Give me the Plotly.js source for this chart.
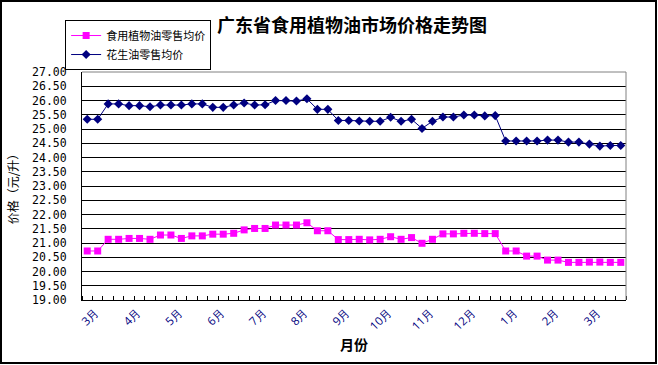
<!DOCTYPE html>
<html><head><meta charset="utf-8">
<script src="https://cdn.plot.ly/plotly-3.0.1.min.js"></script>
<style>
body{margin:0;padding:0;background:#fff;}
#frame{position:absolute;left:0;top:0;width:657px;height:364px;border:2px solid #000;box-sizing:border-box;pointer-events:none;}
</style></head>
<body>
<div id="chart"></div>
<div id="frame"></div>
<script>
// 52 weekly observations, labelled by month (label every 4th point)
const monthLabels = ['3月','4月','5月','6月','7月','8月','9月','10月','11月','12月','1月','2月','3月'];
const labelEvery = 4;

const vegOil = [20.72,20.72,21.13,21.13,21.16,21.16,21.13,21.28,21.28,21.16,
                21.25,21.25,21.31,21.31,21.34,21.46,21.51,21.51,21.63,21.63,
                21.63,21.71,21.43,21.43,21.12,21.12,21.13,21.11,21.13,21.22,
                21.13,21.19,20.99,21.13,21.32,21.32,21.34,21.34,21.33,21.33,
                20.72,20.72,20.54,20.54,20.40,20.40,20.32,20.32,20.33,20.33,
                20.32,20.32];
const peanutOil = [25.34,25.34,25.88,25.88,25.82,25.82,25.78,25.84,25.84,25.84,
                   25.88,25.88,25.76,25.76,25.84,25.91,25.84,25.85,26.00,26.00,
                   25.98,26.06,25.69,25.69,25.30,25.30,25.28,25.27,25.27,25.41,
                   25.27,25.34,25.02,25.27,25.42,25.42,25.49,25.49,25.46,25.47,
                   24.58,24.58,24.58,24.58,24.61,24.61,24.54,24.54,24.47,24.40,
                   24.42,24.42];

const xs = vegOil.map((_, i) => i + 1);
const tickPos = monthLabels.map((_, k) => k * labelEvery + 1.8);

const traces = [
  {x: xs, y: vegOil, name: '食用植物油零售均价', type: 'scatter', mode: 'lines+markers',
   line: {color: '#FF00FF', width: 1}, marker: {symbol: 'square', size: 7, color: '#FF00FF'}},
  {x: xs, y: peanutOil, name: '花生油零售均价', type: 'scatter', mode: 'lines+markers',
   line: {color: '#000080', width: 1}, marker: {symbol: 'diamond', size: 7, color: '#000080'}}
];

const layout = {
  width: 658, height: 365,
  margin: {l: 82, r: 32, t: 72, b: 65},
  paper_bgcolor: '#fff', plot_bgcolor: '#fff',
  font: {color: '#000'},
  title: {text: '广东省食用植物油市场价格走势图', x: 0.535, xanchor: 'center', y: 0.93, yanchor: 'middle',
          font: {size: 18, family: 'Noto Sans CJK SC', weight: 'bold', color: '#000'}},
  showlegend: true,
  legend: {x: -0.031, y: 1.228, xanchor: 'left', yanchor: 'top', bordercolor: '#000', borderwidth: 1,
           bgcolor: '#fff', font: {size: 11, family: 'Noto Sans CJK SC', color: '#000'},
           itemwidth: 30, tracegroupgap: 0},
  xaxis: {range: [0.5, 52.5], tickmode: 'array', tickvals: tickPos, ticktext: monthLabels,
          tickangle: -45, ticks: '', showgrid: false, zeroline: false,
          showline: true, linecolor: '#000', linewidth: 1,
          tickfont: {size: 11.5, color: '#000080'},
          minor: {tickmode: 'linear', tick0: 0.5, dtick: 1, ticks: 'inside', ticklen: 4,
                  tickcolor: '#000', tickwidth: 1, showgrid: false},
          title: {text: '月份', standoff: 8, font: {size: 14, weight: 'bold', family: 'Noto Sans CJK SC', color: '#000'}}},
  yaxis: {range: [19, 27], dtick: 0.5, tick0: 19, tickformat: '.2f', ticks: '',
          showgrid: true, gridcolor: '#000', gridwidth: 1, zeroline: false,
          showline: true, linecolor: '#000', linewidth: 1, ticklabelstandoff: 12,
          tickfont: {size: 11.5, family: 'DejaVu Sans Mono', color: '#000'},
          title: {text: '价格（元/升）', standoff: 10, font: {size: 12, family: 'Noto Sans CJK SC', color: '#000'}}},
  shapes: [
    {type: 'line', xref: 'paper', yref: 'paper', x0: 0, x1: 1, y0: 1, y1: 1, line: {color: '#808080', width: 1}, layer: 'above'},
    {type: 'line', xref: 'paper', yref: 'paper', x0: 1, x1: 1, y0: 0, y1: 1, line: {color: '#808080', width: 1}, layer: 'above'}
  ]
};

Plotly.newPlot('chart', traces, layout, {displayModeBar: false, staticPlot: true});
</script>
</body></html>
